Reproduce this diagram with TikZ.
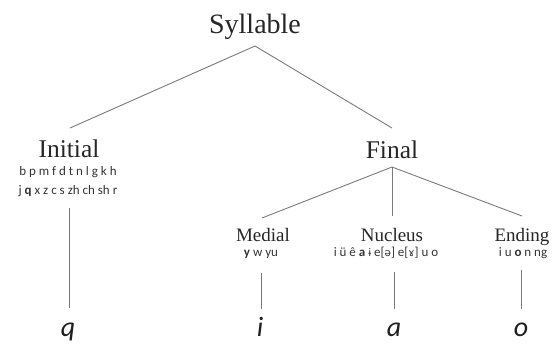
\documentclass[tikz,border=0pt]{standalone}
\usepackage{fontspec}
\setmainfont{Liberation Serif}
\newfontfamily\subfont{Carlito}
\newfontfamily\ipafont{DejaVu Sans}
\begin{document}
\begin{tikzpicture}[x=1bp,y=-1bp]
\tikzset{
  branch/.style={draw=black!52, line width=0.9bp},
  big/.style={inner sep=0pt, anchor=base, text=black!85, font=\fontsize{28bp}{30bp}\selectfont},
  mid/.style={inner sep=0pt, anchor=base, text=black!85, font=\fontsize{25.5bp}{28bp}\selectfont},
  small/.style={inner sep=0pt, anchor=base, text=black!85, font=\fontsize{19bp}{21bp}\selectfont},
  subs/.style={inner sep=0pt, anchor=base, text=black!80, font=\subfont\fontsize{13bp}{15bp}\selectfont},
  leaf/.style={inner sep=0pt, anchor=base, text=black!88, font=\subfont\itshape\fontsize{28bp}{30bp}\selectfont},
}
\useasboundingbox (0,0) rectangle (554,343);
% nodes
\node[big] (syl) at (255,33) {Syllable};
\coordinate (sylb) at (255,46);
\node[mid] (ini) at (69,157) {Initial};
\coordinate (init) at (70,128);
\node[subs] (ini1) at (68,175) {b p m f d t n l g k h};
\node[subs] (ini2) at (68,194) {j \textbf{q} x z c s zh ch sh r};
\coordinate (inib) at (69,208);
\node[mid] (fin) at (392,158) {Final};
\coordinate (fint) at (392,128);
\coordinate (finb) at (392,167);
\node[small] (med) at (263,241) {Medial};
\node[small] (nuc) at (392,241) {Nucleus};
\node[small] (end) at (522,241) {Ending};
\coordinate (medt) at (262,218);
\coordinate (nuct) at (392,216);
\coordinate (endt) at (522,216);
\node[subs] (meds) at (261,256) {\textbf{y} w yu};
\node[subs] (nucs) at (386,256) {i ü ê \textbf{a} {\ipafont\fontsize{10.5bp}{12bp}\selectfont ɨ} e[{\ipafont\fontsize{10.5bp}{12bp}\selectfont ə}] e[{\ipafont\fontsize{10.5bp}{12bp}\selectfont ɤ}] u o};
\node[subs] (ends) at (523,256) {i u \textbf{o} n ng};
\coordinate (medb) at (261,273);
\coordinate (nucb) at (394,272);
\coordinate (endb) at (521,270);
\node[leaf] (q) at (68,336) {q};
\node[leaf] (i) at (260,336) {i};
\node[leaf] (a) at (394,336) {a};
\node[leaf] (o) at (521,336) {o};
\coordinate (qt) at (69,308);
\coordinate (it) at (261,309);
\coordinate (at) at (394,309);
\coordinate (ot) at (521,309);
% connectors
\draw[branch] (init) -- (sylb) -- (fint);
\draw[branch] (medt) -- (finb) -- (endt);
\draw[branch] (finb) -- (nuct);
\draw[branch] (inib) -- (qt);
\draw[branch] (medb) -- (it);
\draw[branch] (nucb) -- (at);
\draw[branch] (endb) -- (ot);
\end{tikzpicture}
\end{document}
